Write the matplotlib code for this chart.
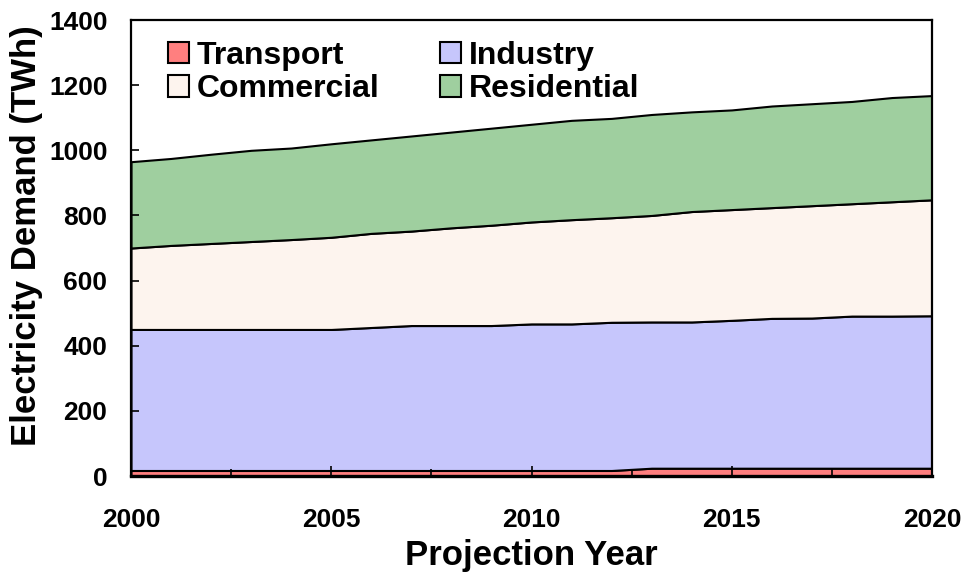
import matplotlib
matplotlib.use("Agg")

import matplotlib.pyplot as plt
from matplotlib.ticker import MultipleLocator

# --- Dados (TWh por setor) ---
anos = list(range(2000, 2021))
transport = [17, 17, 17, 17, 17, 17, 17, 17, 17, 17, 17, 17, 17,
             24, 24, 24, 24, 24, 24, 24, 24]
industry = [433, 433, 433, 433, 433, 433, 439, 445, 445, 445, 450,
            450, 455, 449, 449, 454, 460, 461, 467, 467, 468]
commercial = [250, 258, 264, 270, 276, 283, 289, 290, 300, 308, 313,
              320, 321, 327, 339, 340, 340, 345, 345, 351, 356]
residential = [265, 267, 274, 280, 281, 287, 287, 292, 294, 298, 300,
               305, 305, 310, 306, 306, 312, 313, 314, 320, 320]

setores = ["Transport", "Industry", "Commercial", "Residential"]
cores = ["#FF7F7F", "#C6C6FC", "#FDF4EE", "#9FCF9F"]

plt.rcParams['font.family'] = ['Liberation Sans', 'DejaVu Sans']
plt.rcParams['font.weight'] = 'bold'

fig = plt.figure(figsize=(9.64, 5.72), dpi=100)
ax = fig.add_axes([0.1359, 0.1678, 0.8309, 0.7972])

polys = ax.stackplot(anos, transport, industry, commercial, residential,
                     colors=cores, labels=setores,
                     edgecolor='black', linewidth=1.5)

ax.set_xlim(2000, 2020)
ax.set_ylim(0, 1400)
ax.xaxis.set_major_locator(MultipleLocator(5))
ax.xaxis.set_minor_locator(MultipleLocator(2.5))
ax.yaxis.set_major_locator(MultipleLocator(200))

ax.tick_params(axis='x', which='major', direction='in', length=7, width=1.2,
               pad=23, labelsize=19)
ax.tick_params(axis='x', which='minor', direction='in', length=5, width=1.2)
ax.tick_params(axis='y', direction='in', length=6, width=1.2,
               pad=17, labelsize=19)
for lbl in ax.get_xticklabels() + ax.get_yticklabels():
    lbl.set_fontweight('bold')

for s in ax.spines.values():
    s.set_linewidth(1.6)
    s.set_zorder(5)
ax.spines['bottom'].set_linewidth(2.4)

ax.set_xlabel("Projection Year", fontsize=25, fontweight='bold', labelpad=5)
ax.set_ylabel("Electricity Demand (TWh)", fontsize=25, fontweight='bold')
ax.yaxis.set_label_coords(-0.110, 0.528)

# Legenda em 2 colunas: Transport/Industry na 1a linha, Commercial/Residential na 2a
ordem = [0, 2, 1, 3]
ax.legend([polys[i] for i in ordem], [setores[i] for i in ordem],
          ncol=2, loc='upper left', bbox_to_anchor=(0.014, 1.01),
          frameon=False, prop={'weight': 'bold', 'size': 23},
          handlelength=0.65, handleheight=0.65, handletextpad=0.25,
          columnspacing=1.9, labelspacing=0.1, borderpad=0.3)

fig.savefig("out.png", dpi=100)
